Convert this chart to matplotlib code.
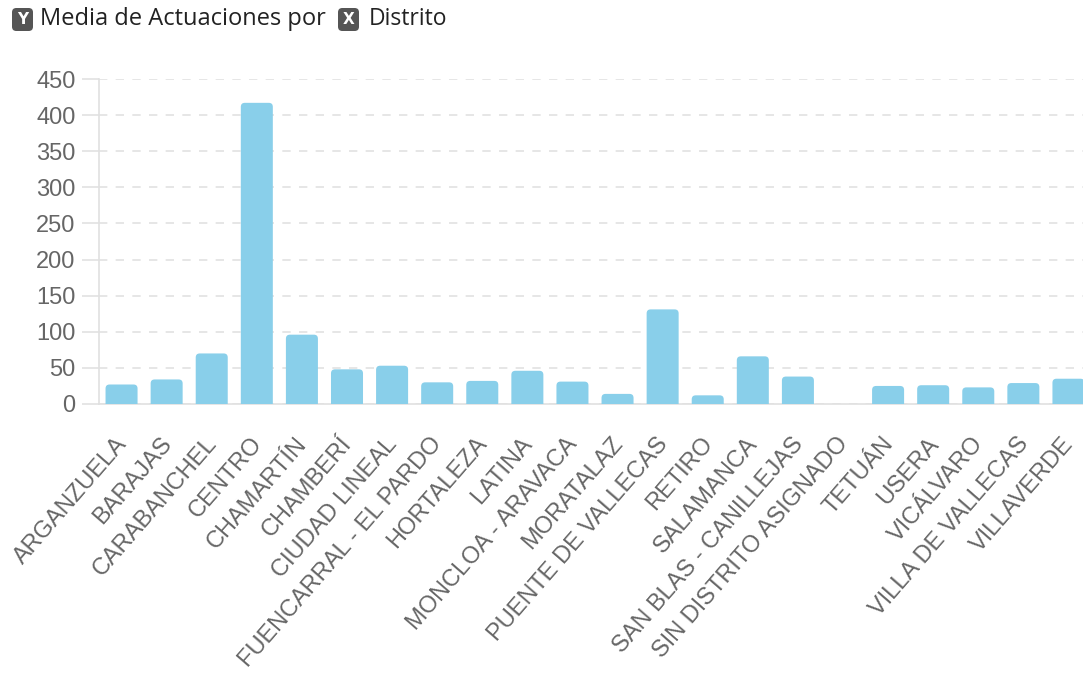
import numpy as np
import matplotlib
matplotlib.use("Agg")
import matplotlib.pyplot as plt
import matplotlib.transforms as mtransforms
from matplotlib.patches import FancyBboxPatch

distritos = ["ARGANZUELA", "BARAJAS", "CARABANCHEL", "CENTRO", "CHAMARTÍN",
             "CHAMBERÍ", "CIUDAD LINEAL", "FUENCARRAL - EL PARDO", "HORTALEZA",
             "LATINA", "MONCLOA - ARAVACA", "MORATALAZ", "PUENTE DE VALLECAS",
             "RETIRO", "SALAMANCA", "SAN BLAS - CANILLEJAS",
             "SIN DISTRITO ASIGNADO", "TETUÁN", "USERA", "VICÁLVARO",
             "VILLA DE VALLECAS", "VILLAVERDE"]
media = [27, 34, 70, 417, 96, 48, 53, 30, 32, 46, 31, 14, 131, 12, 66, 38,
         0, 25, 26, 23, 29, 35]
y_ticks = [0, 50, 100, 150, 200, 250, 300, 350, 400, 450]

plt.rcParams['font.family'] = ['Liberation Sans', 'DejaVu Sans']

W, H = 1083, 680
fig = plt.figure(figsize=(W / 100, H / 100), dpi=100)
ax = fig.add_axes([99 / W, 1 - 404 / H, (1091 - 99) / W, (404 - 79) / H])

x = np.arange(len(distritos))
bars = ax.bar(x, media, width=0.71, color='skyblue')
ax.set_xlim(-0.5, len(distritos) - 0.5)
ax.set_ylim(0, 450)

# swap the plain rectangles for ones with rounded top corners
px_x = (1091 - 99) / len(distritos)   # pixels per x unit
px_y = (404 - 79) / 450               # pixels per y unit
aspect = px_x / px_y
r = 4 / px_x
for b in bars:
    b.set_visible(False)
    bottom = -30
    p = FancyBboxPatch((b.get_x(), bottom), b.get_width(), b.get_height() - bottom,
                       boxstyle=f"round,pad=0,rounding_size={r}",
                       mutation_aspect=aspect, facecolor='#89CFEA',
                       edgecolor='none', zorder=3)
    ax.add_patch(p)

ax.set_yticks(y_ticks)
ax.grid(axis='y', color='#e2e2e2', linestyle=(0, (5, 5)), linewidth=1.2, zorder=0)
ax.set_axisbelow(True)
for s in ['top', 'right']:
    ax.spines[s].set_visible(False)
for s in ['left', 'bottom']:
    ax.spines[s].set_color('#e0e0e0')
    ax.spines[s].set_linewidth(1.2)
ax.tick_params(axis='y', length=12, color='#e2e2e2', width=1.2, pad=5,
               labelsize=17, labelcolor='#666666')
ax.tick_params(axis='x', length=0, pad=18, labelsize=17, labelcolor='#666666')
ax.set_xticks(x)
ax.set_xticklabels(distritos, rotation=49, ha='right', rotation_mode='anchor')

# nudge the slanted labels a little left and down
shift = mtransforms.ScaledTranslation(-7 / 100, -4 / 100, fig.dpi_scale_trans)
for lbl in ax.get_xticklabels():
    lbl.set_transform(lbl.get_transform() + shift)


def badge(x0, letter):
    # small dark rounded square with a white letter, sized in pixels
    bw, bh, top = 21, 23, 8
    box = FancyBboxPatch((x0 / W, 1 - (top + bh) / H), bw / W, bh / H,
                         boxstyle="round,pad=0,rounding_size=0.004",
                         mutation_aspect=W / H, transform=fig.transFigure,
                         facecolor='#555555', edgecolor='none')
    fig.add_artist(box)
    fig.text((x0 + bw / 2) / W, 1 - (top + bh / 2) / H, letter, color='white',
             fontsize=11, fontweight='bold', ha='center', va='center',
             family='DejaVu Sans')


# legend row at the top
badge(12, "Y")
fig.text(40 / W, 1 - 19 / H, "Media de Actuaciones por", color='#222222',
         fontsize=17, ha='left', va='center', family='Open Sans')
badge(338, "X")
fig.text(369 / W, 1 - 19 / H, "Distrito", color='#222222',
         fontsize=16.5, ha='left', va='center', family='Open Sans')

fig.savefig("out.png", dpi=100)
